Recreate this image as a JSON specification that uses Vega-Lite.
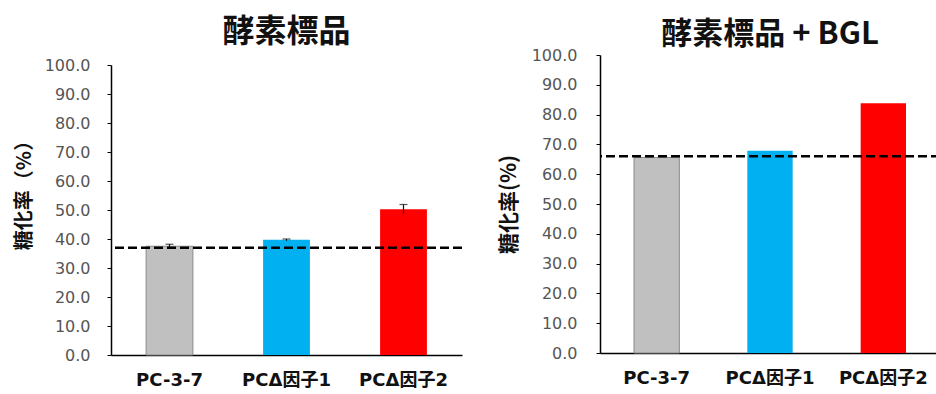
{
  "$schema": "https://vega.github.io/schema/vega-lite/v6.json",
  "background": "white",
  "padding": {"left": 14, "top": 16, "right": 0, "bottom": 0},
  "spacing": 34,
  "config": {
    "font": "Noto Sans CJK JP",
    "view": {"stroke": null},
    "axis": {"grid": false, "domainColor": "#000", "domainWidth": 1.5},
    "title": {"font": "Noto Sans CJK JP", "fontWeight": "bold", "color": "#111"}
  },
  "datasets": {
    "left": [
      {"sample": "PC-3-7", "value": 37.5, "lo": 37.0, "hi": 38.2},
      {"sample": "PCΔ因子1", "value": 39.7, "lo": 39.4, "hi": 40.0},
      {"sample": "PCΔ因子2", "value": 50.3, "lo": 48.7, "hi": 51.9}
    ],
    "right": [
      {"sample": "PC-3-7", "value": 65.6},
      {"sample": "PCΔ因子1", "value": 67.9},
      {"sample": "PCΔ因子2", "value": 83.8}
    ],
    "refLeft": [{"ref": 37.0}],
    "refRight": [{"ref": 66.0}]
  },
  "hconcat": [
    {
      "width": 351,
      "height": 300,
      "title": {"text": "酵素標品", "offset": 6, "fontSize": 32},
      "layer": [
        {
          "data": {"name": "left"},
          "mark": {"type": "bar", "strokeWidth": 1},
          "encoding": {
            "x": {"field": "sample", "type": "nominal", "sort": null,
              "scale": {"paddingInner": 0.6, "paddingOuter": 0.3},
              "axis": {"title": null, "labelAngle": 0, "ticks": false, "labelPadding": 16, "labelFontSize": 18, "labelFont": "'DejaVu Sans', 'Noto Sans CJK JP'", "labelFontWeight": "bold", "labelColor": "#111"}},
            "y": {"field": "value", "type": "quantitative",
              "scale": {"domain": [0, 100], "rangeMax": 10},
              "axis": {"title": "糖化率（%）", "titleFontSize": 20, "titleFontWeight": "bold", "titleColor": "#111", "titlePadding": 10, "titleY": 135,
                "values": [0,10,20,30,40,50,60,70,80,90,100], "tickCount": 11, "format": ".1f", "labelOverlap": false,
                "ticks": true, "tickSize": 4, "tickColor": "#000", "labelPadding": 17, "labelFontSize": 16, "labelFont": "DejaVu Sans", "labelColor": "#555"}},
            "color": {"field": "sample", "type": "nominal", "legend": null,
              "scale": {"domain": ["PC-3-7", "PCΔ因子1", "PCΔ因子2"], "range": ["#c0c0c0", "#00b0f0", "#ff0000"]}},
            "stroke": {"condition": {"test": "datum.sample === 'PC-3-7'", "value": "#8a8a8a"}, "value": null}
          }
        },
        {
          "data": {"name": "left"},
          "mark": {"type": "rule", "color": "#111", "strokeWidth": 1.2},
          "encoding": {
            "x": {"field": "sample", "type": "nominal", "sort": null},
            "y": {"field": "lo", "type": "quantitative"},
            "y2": {"field": "hi"}
          }
        },
        {
          "data": {"name": "left"},
          "mark": {"type": "tick", "color": "#111", "thickness": 1.2, "size": 8},
          "encoding": {
            "x": {"field": "sample", "type": "nominal", "sort": null},
            "y": {"field": "hi", "type": "quantitative"}
          }
        },
        {
          "data": {"name": "refLeft"},
          "mark": {"type": "rule", "color": "#000", "strokeWidth": 2.5, "strokeDash": [9, 4]},
          "encoding": {"y": {"field": "ref", "type": "quantitative"}}
        }
      ]
    },
    {
      "width": 340,
      "height": 298,
      "title": {"text": "酵素標品 + BGL", "offset": -4, "fontSize": 31},
      "layer": [
        {
          "data": {"name": "right"},
          "mark": {"type": "bar", "strokeWidth": 1},
          "encoding": {
            "x": {"field": "sample", "type": "nominal", "sort": null,
              "scale": {"paddingInner": 0.6, "paddingOuter": 0.3},
              "axis": {"title": null, "labelAngle": 0, "ticks": false, "labelPadding": 16, "labelFontSize": 18, "labelFont": "'DejaVu Sans', 'Noto Sans CJK JP'", "labelFontWeight": "bold", "labelColor": "#111"}},
            "y": {"field": "value", "type": "quantitative",
              "scale": {"domain": [0, 100]},
              "axis": {"title": "糖化率(%)", "titleFontSize": 21, "titleFontWeight": "bold", "titleColor": "#111", "titlePadding": 12,
                "values": [0,10,20,30,40,50,60,70,80,90,100], "tickCount": 11, "format": ".1f", "labelOverlap": false,
                "ticks": true, "tickSize": 4, "tickColor": "#000", "labelPadding": 19, "labelFontSize": 16, "labelFont": "DejaVu Sans", "labelColor": "#555"}},
            "color": {"field": "sample", "type": "nominal", "legend": null,
              "scale": {"domain": ["PC-3-7", "PCΔ因子1", "PCΔ因子2"], "range": ["#c0c0c0", "#00b0f0", "#ff0000"]}},
            "stroke": {"condition": {"test": "datum.sample === 'PC-3-7'", "value": "#8a8a8a"}, "value": null}
          }
        },
        {
          "data": {"name": "refRight"},
          "mark": {"type": "rule", "color": "#000", "strokeWidth": 2.5, "strokeDash": [9, 4]},
          "encoding": {"y": {"field": "ref", "type": "quantitative"}}
        }
      ]
    }
  ]
}
